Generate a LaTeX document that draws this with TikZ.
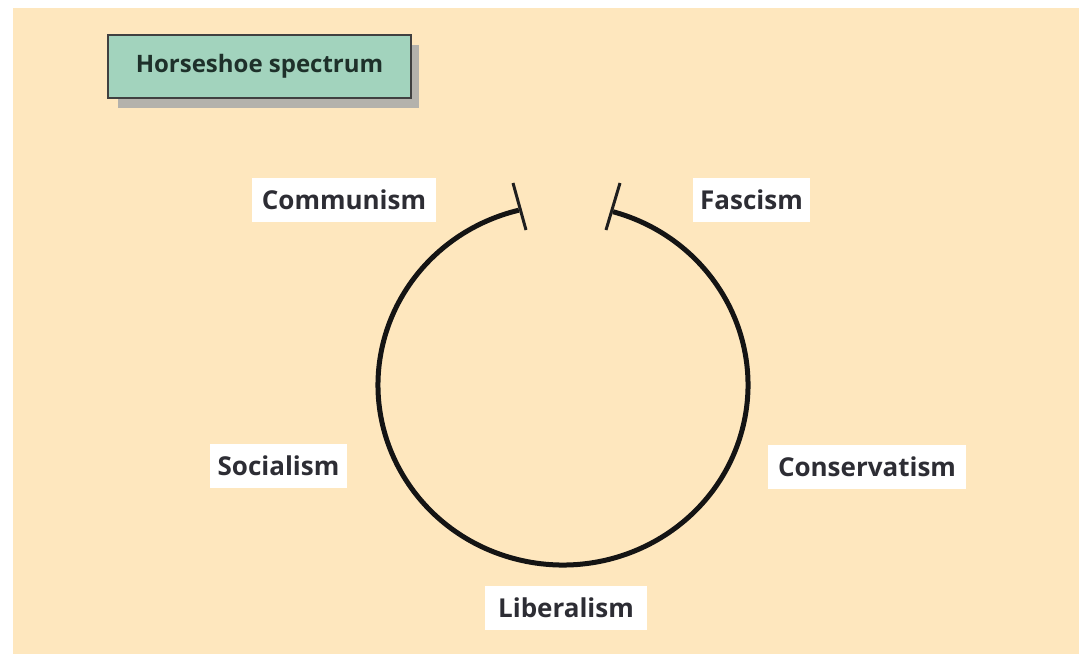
\documentclass[tikz,border=0pt]{standalone}
\usepackage{fontspec}
\setmainfont{Open Sans}
\definecolor{bgbeige}{RGB}{254,231,190}
\definecolor{titlegreen}{RGB}{162,211,189}
\definecolor{txtdark}{RGB}{45,45,52}
\definecolor{titletxt}{RGB}{30,48,42}
\definecolor{shadowgray}{RGB}{180,178,172}
\begin{document}
\begin{tikzpicture}[x=1pt,y=-1pt,
  labelbox/.style={fill=white, inner sep=0pt, minimum height=44pt, font=\fontsize{26}{31}\selectfont\bfseries, text=txtdark},
  horseline/.style={line width=5pt, draw=black!92},
  tickline/.style={line width=3pt, draw=black!88}]
\useasboundingbox (0,0) rectangle (1079,654);
\fill[white] (0,0) rectangle (1079,654);
\fill[bgbeige] (13,8) rectangle (1079,654);
% title
\fill[shadowgray] (118,45) rectangle (419,108);
\node[draw=black!75, line width=1.5pt, fill=titlegreen, minimum width=303pt, minimum height=63pt, inner sep=0pt,
  font=\fontsize{24}{29}\selectfont\bfseries, text=titletxt] (title) at (259.5,66.5) {Horseshoe spectrum};
% horseshoe
\coordinate (ctr) at (563,385);
\draw[horseline] (ctr) ++(-74.3:185 and 180) coordinate (rend)
  arc[start angle=-74.3, end angle=256.2, x radius=185, y radius=180] coordinate (lend);
\coordinate (lt1) at (513,183);
\coordinate (lt2) at (526,230);
\coordinate (rt1) at (620,183);
\coordinate (rt2) at (606,230);
\draw[tickline] (lt1) -- (lt2);
\draw[tickline] (rt1) -- (rt2);
% labels
\node[labelbox, minimum width=184pt] (comm) at (344,199.5) {Communism};
\node[labelbox, minimum width=117pt] (fasc) at (751.5,199.5) {Fascism};
\node[labelbox, minimum width=137pt] (soc) at (278.5,465.5) {Socialism};
\node[labelbox, minimum width=198pt] (cons) at (867,466.5) {Conservatism};
\node[labelbox, minimum width=162pt] (lib) at (566,607.5) {Liberalism};
\end{tikzpicture}
\end{document}
